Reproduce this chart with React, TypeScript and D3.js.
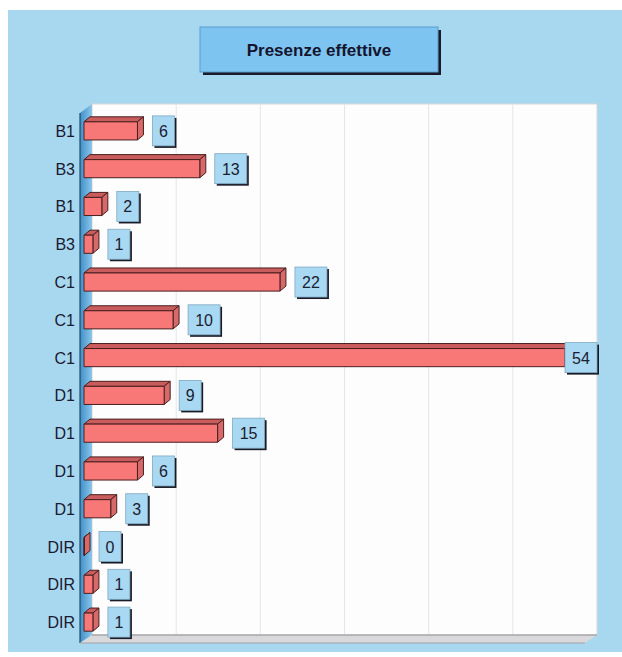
import React from "react";
import * as d3 from "d3";

const categories = ["B1", "B3", "B1", "B3", "C1", "C1", "C1", "D1", "D1", "D1", "D1", "DIR", "DIR", "DIR"];
const values = [6, 13, 2, 1, 22, 10, 54, 9, 15, 6, 3, 0, 1, 1];
const title = "Presenze effettive";
const domainMax = 56.7;
const gridCount = 6;

export default function App() {
  const W = 622, H = 657;
  const front0 = 84;
  const backLeft = 92, backRight = 597, backTop = 104, backBottom = 635;
  const wallLeft = 80, floorFront = 643;
  const x = d3.scaleLinear().domain([0, domainMax]).range([0, backRight - backLeft]);
  const idx = categories.map((_, i) => i);
  const y = d3.scaleBand<number>().domain(idx).range([112, 641]).paddingInner(0.52).paddingOuter(0.26);
  const bh = y.bandwidth();
  const dx = 6, dy = 5;
  const grid = d3.range(1, gridCount).map((k) => (domainMax / gridCount) * k);
  const font = "Arial, 'Liberation Sans', sans-serif";

  return (
    <svg width={W} height={H} style={{ position: "absolute", left: 0, top: 0 }} fontFamily={font}>
      <defs>
        <linearGradient id="wallG" x1="0" x2="1" y1="0" y2="0">
          <stop offset="0" stopColor="#3f8fc8" />
          <stop offset="1" stopColor="#8cc6ea" />
        </linearGradient>
      </defs>
      <rect x={0} y={0} width={W} height={H} fill="#ffffff" />
      <rect x={8} y={10} width={W - 8} height={642} fill="#a8d8f0" />

      {/* title */}
      <rect x={203} y={30} width={238} height={45} fill="#1a1a2a" />
      <rect x={200} y={27} width={238} height={45} fill="#7ec4f0" stroke="#5a9ccc" strokeWidth={1} />
      <text x={319} y={56} textAnchor="middle" fontSize={17} fontWeight="bold" fill="#14142e">{title}</text>

      {/* back wall */}
      <rect x={backLeft} y={backTop} width={backRight - backLeft} height={backBottom - backTop} fill="#fdfdfd" stroke="#d8d8d8" strokeWidth={1} />
      {grid.map((g, i) => (
        <line key={i} x1={backLeft + x(g)} x2={backLeft + x(g)} y1={backTop} y2={backBottom} stroke="#e2e6ea" strokeWidth={1} />
      ))}
      {/* left wall */}
      <polygon points={`${wallLeft},${backTop + 9} ${backLeft},${backTop} ${backLeft},${backBottom} ${wallLeft},${floorFront}`} fill="url(#wallG)" />
      <line x1={wallLeft} y1={backTop + 9} x2={wallLeft} y2={floorFront} stroke="#1d4a6a" strokeWidth={1.2} />
      {/* floor */}
      <polygon points={`${wallLeft},${floorFront} ${backLeft},${backBottom} ${backRight},${backBottom} ${backRight - 12},${floorFront}`} fill="#d9d9dc" />
      <line x1={backLeft} y1={backBottom} x2={backRight} y2={backBottom} stroke="#8a8a90" strokeWidth={1} />
      <line x1={wallLeft} y1={floorFront} x2={backRight - 12} y2={floorFront} stroke="#a0a0a6" strokeWidth={1} />

      {/* bars */}
      {values.map((v, i) => {
        const yy = y(i)!;
        const w = x(v);
        const x1 = front0 + w;
        return (
          <g key={i} stroke="#4a1e1e" strokeWidth={1} strokeLinejoin="round">
            <polygon points={`${front0},${yy} ${front0 + dx},${yy - dy} ${x1 + dx},${yy - dy} ${x1},${yy}`} fill="#c95c5c" />
            <polygon points={`${x1},${yy} ${x1 + dx},${yy - dy} ${x1 + dx},${yy + bh - dy} ${x1},${yy + bh}`} fill="#d66a6a" />
            <rect x={front0} y={yy} width={Math.max(w, 0.5)} height={bh} fill="#f87878" />
          </g>
        );
      })}

      {/* category labels */}
      {categories.map((c, i) => (
        <text key={i} x={75} y={y(i)! + bh / 2 + 6} textAnchor="end" fontSize={16} fill="#1a1a30">{c}</text>
      ))}

      {/* value labels */}
      {values.map((v, i) => {
        const s = String(v);
        const bw = s.length > 1 ? 32 : 22;
        const bhh = 30;
        let bx = front0 + x(v) + 15;
        if (bx + bw > backRight) bx = backRight - bw;
        const cy = y(i)! + bh / 2;
        const by = cy - bhh / 2;
        return (
          <g key={i}>
            <rect x={bx + 2} y={by + 2} width={bw} height={bhh} fill="#1a1a26" />
            <rect x={bx} y={by} width={bw} height={bhh} fill="#a9d8f2" stroke="#7fa8c0" strokeWidth={0.8} />
            <text x={bx + bw / 2} y={cy + 6} textAnchor="middle" fontSize={16} fill="#1a2030">{s}</text>
          </g>
        );
      })}
    </svg>
  );
}
